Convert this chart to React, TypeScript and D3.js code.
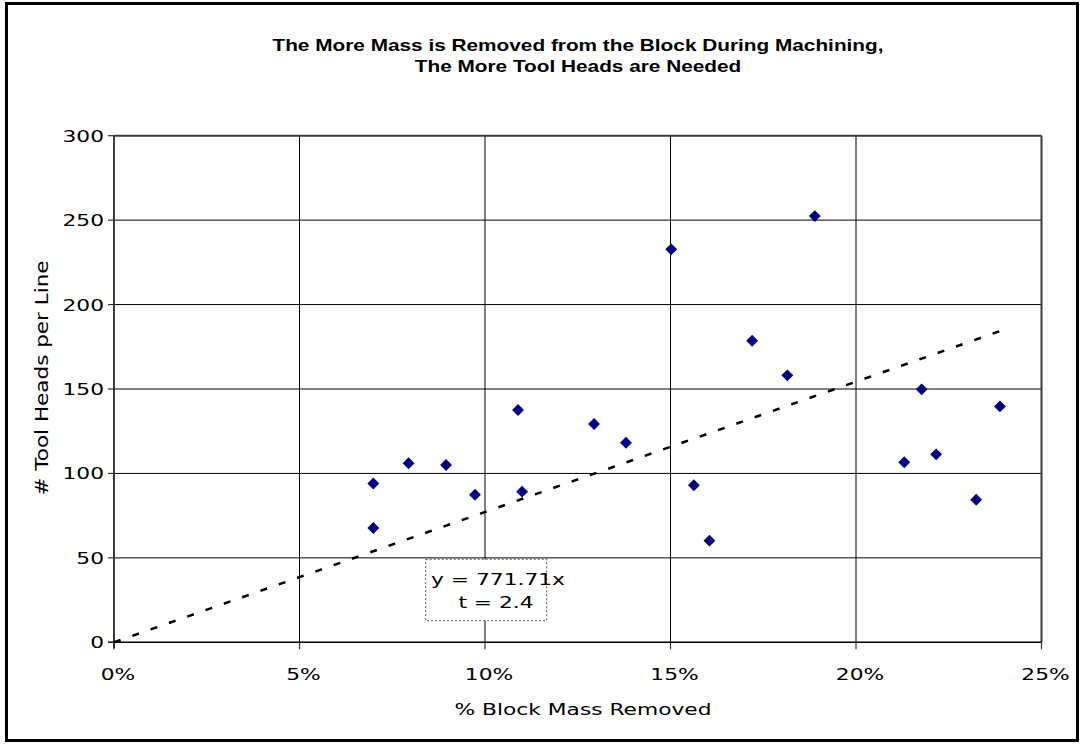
import React from "react";
import * as d3 from "d3";

// Share of block mass removed during machining (fraction) vs. tool heads per line
const massRemoved = [
  0.0699, 0.0699, 0.0794, 0.0895, 0.0973, 0.1089, 0.11, 0.1294, 0.138, 0.1502,
  0.1563, 0.1605, 0.172, 0.1815, 0.1889, 0.213, 0.2177, 0.2216, 0.2324, 0.2388,
];
const toolHeads = [
  94, 67.7, 106, 105, 87.4, 137.6, 89.2, 129.3, 118.2, 232.7,
  93, 60.2, 178.6, 158.1, 252.4, 106.6, 149.8, 111.3, 84.4, 139.7,
];

const xTicks = [0, 0.05, 0.1, 0.15, 0.2, 0.25];
const yTicks = [0, 50, 100, 150, 200, 250, 300];

// Regression through the origin
const slope = 771.71;
const tStat = 2.4;

const titleLines = [
  "The More Mass is Removed from the Block During Machining,",
  "The More Tool Heads are Needed",
];
const xTitle = "% Block Mass Removed";
const yTitle = "# Tool Heads per Line";

const W = 1084;
const H = 744;
const left = 114;
const right = 1041.5;
const top = 135.7;
const bottom = 642.3;

const SX = 1.36;
const bodyFont = "'DejaVu Sans', Verdana, sans-serif";
const titleFont = "'Liberation Sans', Arial, sans-serif";

function WideText({
  x,
  y,
  anchor = "middle",
  size = 16,
  weight = "normal",
  family = bodyFont,
  sx = SX,
  children,
}: {
  x: number;
  y: number;
  anchor?: string;
  size?: number;
  weight?: string;
  family?: string;
  sx?: number;
  children: React.ReactNode;
}) {
  return (
    <g transform={`translate(${x},${y}) scale(${sx},1)`}>
      <text
        x={0}
        y={0}
        textAnchor={anchor}
        fontSize={size}
        fontWeight={weight}
        fontFamily={family}
        fill="#000"
      >
        {children}
      </text>
    </g>
  );
}

export default function App() {
  const x = d3.scaleLinear().domain([0, 0.25]).range([left, right]);
  const y = d3.scaleLinear().domain([0, 300]).range([bottom, top]);

  const xMax = d3.max(massRemoved) as number;
  const trend = d3
    .line<number>()
    .x((d) => x(d))
    .y((d) => y(slope * d))([0, xMax]);

  const diamond = d3.symbol().type(d3.symbolDiamond2).size(90)();
  const pct = d3.format(".0%");

  return (
    <svg
      width={W}
      height={H}
      style={{ position: "absolute", left: 0, top: 0, display: "block", background: "#fff" }}
    >
      {/* outer frame */}
      <rect x={6.5} y={3.5} width={1071} height={737} fill="#fff" stroke="#000" strokeWidth={3} />

      {/* title */}
      {titleLines.map((t, i) => (
        <WideText key={i} x={578} y={51 + i * 21} size={16} weight="bold" family={titleFont} sx={1.3}>
          {t}
        </WideText>
      ))}

      {/* gridlines */}
      {yTicks.slice(1, -1).map((v) => (
        <line key={"gy" + v} x1={left} x2={right} y1={y(v)} y2={y(v)} stroke="#000" strokeWidth={1} />
      ))}
      {xTicks.slice(1, -1).map((v) => (
        <line key={"gx" + v} x1={x(v)} x2={x(v)} y1={top} y2={bottom} stroke="#000" strokeWidth={1} />
      ))}

      {/* plot frame */}
      <line x1={left} x2={right} y1={top} y2={top} stroke="#3a3a3a" strokeWidth={2} />
      <line x1={right} x2={right} y1={top} y2={bottom} stroke="#3a3a3a" strokeWidth={2} />
      <line x1={left} x2={left} y1={top} y2={bottom + 6} stroke="#3a3a3a" strokeWidth={2} />
      <line x1={left - 6} x2={right} y1={bottom} y2={bottom} stroke="#000" strokeWidth={1.5} />

      {/* tick marks */}
      {yTicks.map((v) => (
        <line key={"ty" + v} x1={left - 6} x2={left} y1={y(v)} y2={y(v)} stroke="#333" strokeWidth={1.2} />
      ))}
      {xTicks.map((v) => (
        <line key={"tx" + v} x1={x(v)} x2={x(v)} y1={bottom} y2={bottom + 7} stroke="#333" strokeWidth={1.2} />
      ))}

      {/* tick labels */}
      {yTicks.map((v) => (
        <WideText key={"ly" + v} x={104} y={y(v) + 6} anchor="end">
          {v}
        </WideText>
      ))}
      {xTicks.map((v) => (
        <WideText key={"lx" + v} x={x(v) + 4} y={680} anchor="middle">
          {pct(v)}
        </WideText>
      ))}

      {/* axis titles */}
      <WideText x={583} y={715} anchor="middle">
        {xTitle}
      </WideText>
      <text
        transform={`translate(48,378) rotate(-90)`}
        textAnchor="middle"
        fontSize={17}
        fontFamily={bodyFont}
        textLength={235}
        lengthAdjust="spacingAndGlyphs"
        fill="#000"
      >
        {yTitle}
      </text>

      {/* trendline */}
      <path d={trend ?? ""} fill="none" stroke="#000" strokeWidth={2.5} strokeDasharray="7 12.4" />

      {/* points */}
      {massRemoved.map((m, i) => (
        <path key={"p" + i} d={diamond ?? ""} transform={`translate(${x(m)},${y(toolHeads[i])})`} fill="#000080" />
      ))}

      {/* equation box */}
      <rect x={425.7} y={559.3} width={121} height={61.4} fill="#fff" stroke="#555" strokeWidth={1} strokeDasharray="2 2" />
      <WideText x={498} y={585} anchor="middle">
        {`y = ${slope}x`}
      </WideText>
      <WideText x={496} y={608} anchor="middle">
        {`t = ${tStat}`}
      </WideText>
    </svg>
  );
}
